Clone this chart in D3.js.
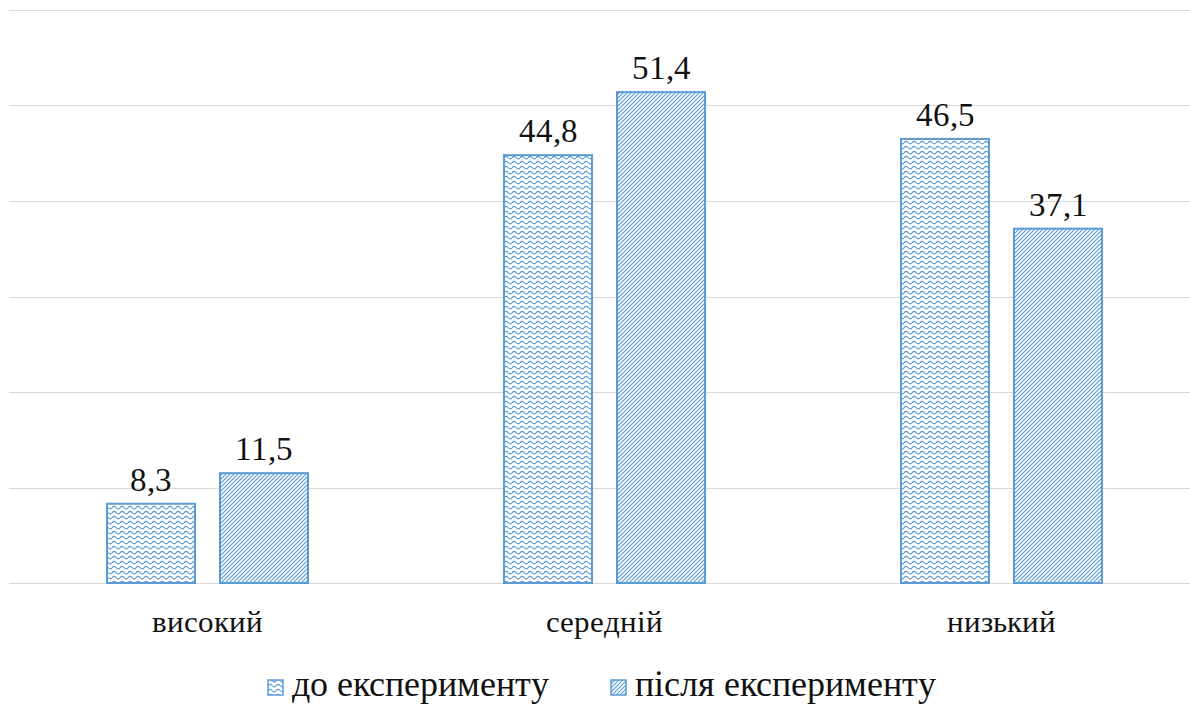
<!DOCTYPE html>
<html>
<head>
<meta charset="utf-8">
<script src="https://cdn.jsdelivr.net/npm/d3@7"></script>
<style>
  @font-face {
    font-family: "ChartSerif";
    src: local("Liberation Serif"), local("LiberationSerif"), local("Times New Roman");
  }
  html, body { margin: 0; padding: 0; background: #fff; }
  svg { display: block; }
  svg text.lbl { font-family: "ChartSerif", "Liberation Serif", "Times New Roman", serif; }
</style>
</head>
<body>
<svg id="chart" width="1190" height="704"></svg>
<script>
// Рівні сформованості
const categories = ["високий", "середній", "низький"];
const seriesNames = ["до експерименту", "після експерименту"];
const beforeValues = [8.3, 44.8, 46.5];
const afterValues = [11.5, 51.4, 37.1];
const yTicks = [0, 10, 20, 30, 40, 50, 60];

const W = 1190, H = 704;
const margin = { left: 9, right: -10, top: 10, bottom: 121 };
const blue = "#5B9BD5";
const ink = "#111";

const svg = d3.select("#chart");
const defs = svg.append("defs");

// Хвилястий візерунок
const wave = defs.append("pattern")
  .attr("id", "pat-wave").attr("patternUnits", "userSpaceOnUse")
  .attr("width", 8).attr("height", 5);
wave.append("rect").attr("width", 8).attr("height", 5).attr("fill", "#fff");
wave.append("path")
  .attr("d", "M0,3 Q2,0 4,2.5 T8,3")
  .attr("fill", "none").attr("stroke", blue).attr("stroke-width", 1.1);

// Діагональне штрихування
const diag = defs.append("pattern")
  .attr("id", "pat-diag").attr("patternUnits", "userSpaceOnUse")
  .attr("width", 4).attr("height", 4);
diag.append("rect").attr("width", 4).attr("height", 4).attr("fill", "#fff");
diag.append("path")
  .attr("d", "M-1,1 L1,-1 M0,4 L4,0 M3,5 L5,3")
  .attr("stroke", blue).attr("stroke-width", 1.2);

const fills = ["url(#pat-wave)", "url(#pat-diag)"];

const x0 = d3.scaleBand().domain(categories)
  .range([margin.left, W - margin.right]).paddingInner(0).paddingOuter(0);
const y = d3.scaleLinear().domain([0, 60]).range([H - margin.bottom, margin.top]);

// Сітка
svg.append("g").selectAll("line").data(yTicks).join("line")
  .attr("x1", margin.left).attr("x2", W)
  .attr("y1", d => Math.round(y(d)) + 0.5).attr("y2", d => Math.round(y(d)) + 0.5)
  .attr("stroke", "#d9d9d9").attr("stroke-width", 1);

const barW = 88, gap = 25;
const bars = [];
categories.forEach((c, i) => {
  bars.push({ c, v: beforeValues[i], s: 0 });
  bars.push({ c, v: afterValues[i], s: 1 });
});
const barX = d => x0(d.c) + x0.bandwidth() / 2 + (d.s === 0 ? -(barW + gap / 2) : gap / 2);

// Стовпці
svg.append("g").selectAll("rect").data(bars).join("rect")
  .attr("x", barX).attr("y", d => y(d.v))
  .attr("width", barW).attr("height", d => y(0) - y(d.v))
  .attr("fill", d => fills[d.s]).attr("stroke", blue).attr("stroke-width", 2);

// Підписи значень
svg.append("g").selectAll("text").data(bars).join("text")
  .attr("class", "lbl")
  .attr("x", d => barX(d) + barW / 2).attr("y", d => y(d.v) - 13)
  .attr("text-anchor", "middle").attr("fill", ink).attr("font-size", 33)
  .text(d => String(d.v).replace(".", ","));

// Категорії
svg.append("g").selectAll("text").data(categories).join("text")
  .attr("class", "lbl")
  .attr("x", d => x0(d) + x0.bandwidth() / 2).attr("y", 632)
  .attr("text-anchor", "middle").attr("fill", ink).attr("font-size", 31)
  .text(d => d);

// Легенда
const legendX = [268, 611];
const lg = svg.append("g").selectAll("g").data(seriesNames).join("g")
  .attr("transform", (d, i) => `translate(${legendX[i]},688)`);
lg.append("rect").attr("x", 0).attr("y", -8).attr("width", 15).attr("height", 15)
  .attr("fill", (d, i) => fills[i]).attr("stroke", blue).attr("stroke-width", 1.5);
lg.append("text").attr("class", "lbl")
  .attr("x", 24).attr("y", 8).attr("fill", ink).attr("font-size", 36)
  .text(d => d);
</script>
</body>
</html>
